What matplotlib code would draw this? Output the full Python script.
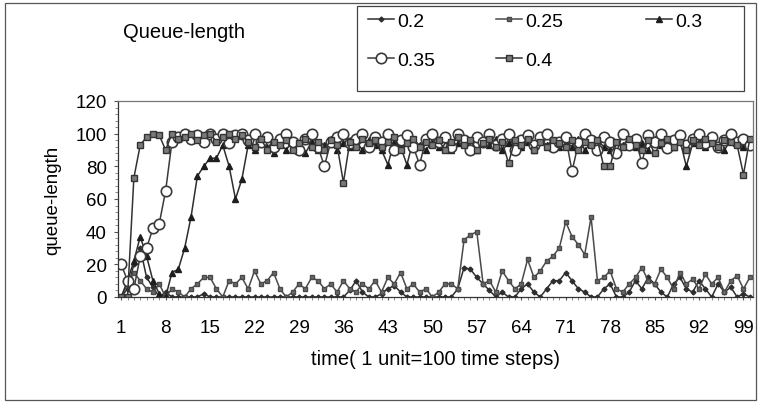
import matplotlib.pyplot as plt
import numpy as np
from matplotlib.patches import Rectangle

plt.rcParams['font.family'] = ['Liberation Sans', 'DejaVu Sans']

# time axis, 1 unit = 100 time steps
t = list(range(1, 101))
tick_labels = [str(v) for v in range(1, 100, 7)]

q_020 = [0, 5, 20, 30, 12, 6, 0, 3, 0, 0,
         0, 0, 0, 2, 0, 0, 0, 0, 0, 0,
         0, 0, 0, 0, 0, 0, 0, 0, 0, 0,
         0, 0, 0, 0, 0, 0, 4, 10, 3, 0,
         0, 2, 5, 7, 3, 0, 0, 0, 0, 0,
         0, 0, 0, 5, 18, 17, 12, 8, 4, 0,
         3, 0, 0, 5, 8, 3, 0, 5, 10, 10,
         15, 10, 5, 3, 0, 0, 5, 8, 0, 0,
         3, 10, 5, 12, 8, 3, 0, 8, 12, 5,
         3, 10, 5, 0, 8, 3, 6, 0, 2, 0]

q_025 = [0, 8, 15, 10, 5, 3, 8, 0, 5, 3,
         0, 5, 8, 12, 12, 5, 0, 10, 8, 12,
         5, 16, 8, 10, 15, 5, 0, 3, 8, 5,
         12, 10, 5, 8, 3, 10, 5, 3, 8, 5,
         10, 3, 12, 8, 15, 5, 8, 3, 5, 0,
         3, 8, 8, 5, 35, 38, 40, 8, 10, 3,
         16, 10, 5, 8, 23, 12, 16, 22, 25, 30,
         46, 37, 32, 26, 49, 10, 12, 16, 5, 3,
         8, 12, 18, 10, 8, 17, 12, 5, 15, 8,
         11, 5, 14, 8, 12, 3, 10, 13, 5, 12]

q_030 = [0, 10, 22, 37, 25, 10, 2, 0, 15, 17,
         30, 49, 74, 80, 85, 85, 93, 80, 60, 72,
         93, 90, 95, 92, 88, 94, 90, 96, 92, 88,
         95, 90, 93, 97, 90, 94, 92, 95, 90, 96,
         93, 90, 81, 95, 92, 81, 96, 93, 90, 95,
         92, 96, 90, 94, 97, 92, 90, 95, 93, 97,
         90, 94, 96, 92, 95, 90, 97, 93, 96, 92,
         95, 92, 97, 90, 94, 96, 92, 90, 95, 93,
         96, 92, 94, 90, 97, 93, 95, 92, 96, 80,
         94, 97, 92, 95, 93, 90, 96, 94, 92, 95]

q_035 = [20, 10, 5, 25, 30, 42, 45, 65, 95, 98,
         100, 97, 99, 95, 100, 97, 100, 94, 99, 100,
         96, 100, 95, 98, 92, 97, 100, 95, 90, 97,
         100, 92, 80, 95, 98, 100, 94, 97, 100, 92,
         98, 95, 100, 90, 96, 99, 92, 81, 97, 100,
         95, 98, 92, 100, 96, 90, 98, 95, 100, 93,
         97, 100, 90, 96, 99, 93, 98, 100, 92, 95,
         98, 77, 94, 100, 96, 90, 98, 95, 88, 100,
         93, 97, 82, 99, 95, 100, 91, 96, 99, 93,
         97, 100, 94, 98, 92, 96, 100, 95, 97, 93]

q_040 = [0, 0, 73, 93, 98, 100, 99, 90, 100, 97,
         98, 100, 96, 99, 100, 95, 98, 100, 97, 99,
         95, 92, 97, 90, 95, 93, 96, 90, 94, 97,
         92, 95, 90, 96, 93, 70, 95, 92, 97, 94,
         96, 92, 95, 98, 90, 94, 97, 92, 95, 93,
         96, 90, 95, 98, 93, 96, 90, 94, 97, 92,
         95, 82, 96, 93, 97, 90, 95, 92, 96, 94,
         92, 96, 90, 95, 93, 96, 80, 80, 95, 92,
         97, 93, 90, 96, 88, 94, 97, 92, 95, 90,
         96, 93, 97, 94, 92, 96, 95, 93, 75, 97]

W, H = 758, 406
fig = plt.figure(figsize=(W / 100, H / 100), dpi=100)
fig.patch.set_facecolor('white')

# outer chart border
fig.add_artist(Rectangle((5 / W, 5 / H), 751 / W, 397 / H, transform=fig.transFigure,
                         fill=False, ec='#555555', lw=0.9))

ax = fig.add_axes([118 / W, (H - 298) / H, 635 / W, 196 / H])

lc = '#2e2e2e'
h1, = ax.plot(t, q_020, color=lc, lw=1.1, marker='D', ms=2.5, mfc=lc, mec=lc, label='0.2')
h2, = ax.plot(t, q_025, color='#4a4a4a', lw=1.1, marker='s', ms=3, mfc='#6a6a6a', mec='#4a4a4a', label='0.25')
h3, = ax.plot(t, q_030, color=lc, lw=1.1, marker='^', ms=5, mfc='#1e1e1e', mec='#1e1e1e', label='0.3')
h4, = ax.plot(t, q_035, color='#3a3a3a', lw=1.1, marker='o', ms=7.5, mfc='white', mec='#3a3a3a', mew=1.2, label='0.35')
h5, = ax.plot(t, q_040, color='#333333', lw=1.1, marker='s', ms=4.5, mfc='#7a7a7a', mec='#333333', mew=1.0, label='0.4')

ax.set_xlim(0.5, 100.5)
ax.set_ylim(0, 120)
ax.set_xticks(range(1, 100, 7))
ax.set_xticklabels(tick_labels)
ax.set_xticks(t, minor=True)
ax.set_yticks(range(0, 121, 20))
ax.set_yticks(range(0, 121, 4), minor=True)
ax.tick_params(axis='both', which='major', labelsize=13.5, length=3, color='#555555', pad=5)
ax.tick_params(axis='x', which='minor', length=2.5, color='#777777')
ax.tick_params(axis='y', which='minor', length=2, color='#777777')
ax.tick_params(axis='x', which='major', length=2.5, pad=13)
for s in ax.spines.values():
    s.set_color('#777777')
    s.set_linewidth(0.9)
ax.spines['left'].set_color('#333333')
ax.spines['bottom'].set_color('#333333')

ax.set_ylabel('queue-length', fontsize=13.5, labelpad=10)
ax.set_xlabel('time( 1 unit=100 time steps)', fontsize=14.5, labelpad=10)

fig.text(123 / W, 1 - 33 / H, 'Queue-length', fontsize=14.5, va='center', ha='left')

# legend: frame plus one entry per series placed like the original
fig.add_artist(Rectangle((357 / W, 1 - 92 / H), 387 / W, 85 / H, transform=fig.transFigure,
                         fill=False, ec='#444444', lw=0.9))
entries = [(h1, 368, 22), (h2, 496, 22), (h3, 646, 22), (h4, 368, 61), (h5, 496, 61)]
for h, x0, y0 in entries:
    fig.legend(handles=[h], loc='center left', bbox_to_anchor=(x0 / W, 1 - y0 / H),
               frameon=False, fontsize=14, handlelength=1.35, handletextpad=0.15,
               borderpad=0, borderaxespad=0)

fig.savefig('out.png', dpi=100)
